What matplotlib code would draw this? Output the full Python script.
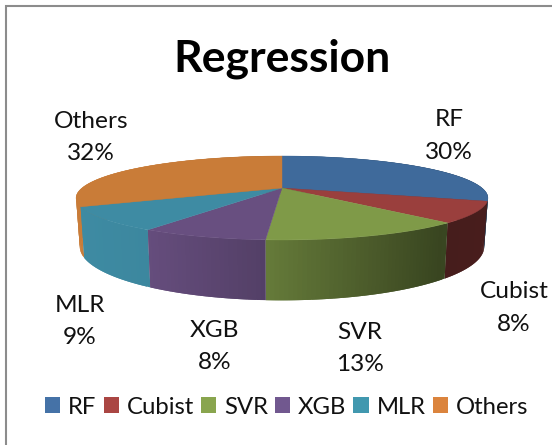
import numpy as np
import matplotlib
matplotlib.use("Agg")
import matplotlib.pyplot as plt
from matplotlib.patches import Patch

categories = ["RF", "Cubist", "SVR", "XGB", "MLR", "Others"]
values = [30, 8, 13, 8, 9, 32]
legend_colors = ["#4572A7", "#AA4643", "#89A54E", "#71588F", "#4198AF", "#DB843D"]
top_colors = ["#3F6A9B", "#9A3F3D", "#7F9A48", "#684F80", "#3E8BA3", "#C97C38"]
title_text = "Regression"

plt.rcParams["font.family"] = ["Lato", "DejaVu Sans"]
TXT = "#111111"
FS = 17.6
FS_LEG = 17.2

fig = plt.figure(figsize=(5.52, 4.45), dpi=100)
ax = fig.add_axes([0, 0, 1, 1])
ax.set_xlim(0, 552)
ax.set_ylim(445, 0)
ax.axis("off")

# projected disk: perspective-mapped circle with apex at (CX, CY)
CX, CY, C, A, K, H, SHRINK = 282.0, 188.0, 200.0, 39.6, 0.238, 46.0, 0.982


def project(theta, radius=1.0):
    u, v = radius * np.sin(theta), radius * np.cos(theta)
    w = 1 + K * v
    return CX + C * u / w, CY - A * v / w, w


def shade(x):
    return np.interp(x, [75, 150, 265, 300, 440, 490], [1.0, 0.97, 0.80, 0.73, 0.45, 0.47])


fractions = np.array(values, dtype=float) / np.sum(values)
edges = 2 * np.pi * np.concatenate([[0], np.cumsum(fractions)])

# side walls: overlapping gradient strips per slice
walls = []
for i, col in enumerate(top_colors):
    n = max(int(np.degrees(edges[i + 1] - edges[i])), 2)
    th = np.linspace(edges[i], edges[i + 1], n + 1)
    base = np.array(matplotlib.colors.to_rgb(col))
    strips = []
    for j in range(n):
        a, b = th[j], th[min(j + 2, n)]
        xa, ya, wa = project(a)
        xb, yb, wb = project(b)
        xs = [xa, xb, CX + (xb - CX) * SHRINK, CX + (xa - CX) * SHRINK]
        ys = [ya, yb, yb + H / wb, ya + H / wa]
        xm = project(th[j] + (th[1] - th[0]) / 2)[0]
        strips.append((xs, ys, np.clip(base * shade(xm), 0, 1)))
    depth = project(th)[1].mean()
    walls.append((depth, strips))
for _, strips in sorted(walls, key=lambda s: s[0]):
    for xs, ys, c in strips:
        ax.fill(xs, ys, color=c, lw=0, zorder=2)

# top faces
for i, col in enumerate(top_colors):
    th = np.linspace(edges[i], edges[i + 1], 120)
    x, y, _ = project(th)
    ax.fill(np.r_[CX, x], np.r_[CY, y], color=col, lw=0.3, zorder=3)

# frame (top and left only)
ax.plot([5.5, 5.5, 552], [445, 5.5, 5.5], color="#8C8C8C", lw=1.5, zorder=1,
        solid_joinstyle="miter")

ax.text(282, 59, title_text, ha="center", va="center", fontsize=32, fontweight="bold",
        color="#000000")

label_pos = [(449, 136), (514, 308), (360, 348.5), (215, 346.5), (80, 321.5), (91, 137.5)]
for name, v, (lx, ly) in zip(categories, values, label_pos):
    ax.text(lx, ly, f"{name}\n{v}%", ha="center", va="center", fontsize=FS, color=TXT,
            linespacing=1.7)

handles = [Patch(facecolor=c, edgecolor="none", label=n) for c, n in zip(legend_colors, categories)]
ax.legend(handles=handles, ncol=6, frameon=False, fontsize=FS_LEG, loc="center",
          bbox_to_anchor=(286.5 / 552, 1 - 407 / 445), handlelength=0.63, handleheight=0.63,
          handletextpad=0.33, columnspacing=0.3, labelcolor=TXT, borderpad=0, borderaxespad=0)

fig.savefig("out.png", dpi=100)
